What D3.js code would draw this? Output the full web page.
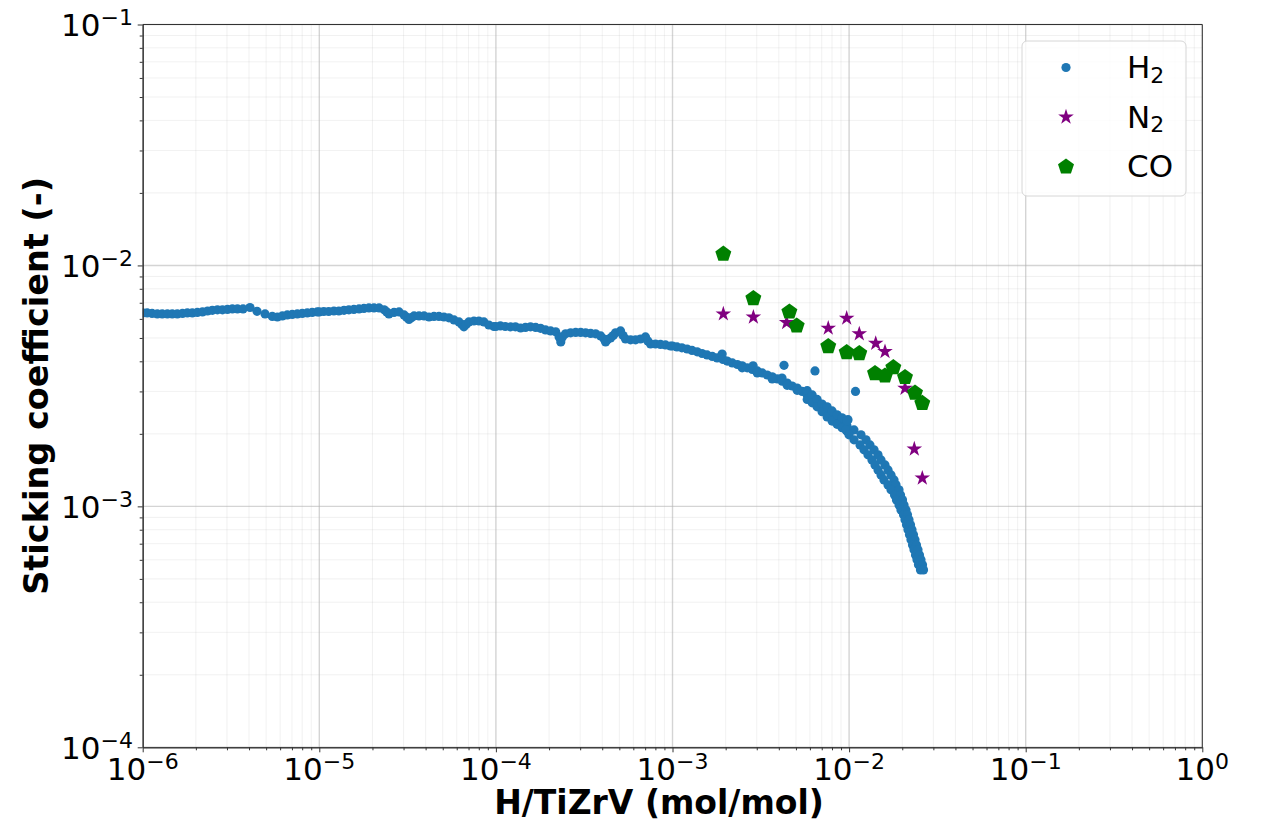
<!DOCTYPE html>
<html>
<head>
<meta charset="utf-8">
<script src="https://cdn.jsdelivr.net/npm/d3@7"></script>
<style>
  body { margin: 0; background: #fff; }
  svg { font-family: "DejaVu Sans", sans-serif; }
</style>
</head>
<body>
<svg id="chart" width="1261" height="822"></svg>
<script>
// H2 sticking coefficient vs H/TiZrV
var h2Points = [
  [1.00e-6,0.00635],[1.06e-6,0.00635],[1.13e-6,0.00632],[1.21e-6,0.00629],[1.29e-6,0.00629],[1.38e-6,0.00629],
  [1.47e-6,0.00629],[1.57e-6,0.00629],[1.68e-6,0.00632],[1.79e-6,0.00635],[1.91e-6,0.00635],[2.04e-6,0.00638],
  [2.18e-6,0.00641],[2.33e-6,0.00647],[2.48e-6,0.00651],[2.65e-6,0.00654],[2.83e-6,0.00654],[3.02e-6,0.00657],
  [3.22e-6,0.00660],[3.44e-6,0.00660],[3.70e-6,0.00660],[4.05e-6,0.00669],[4.44e-6,0.00645],[4.93e-6,0.00629],
  [5.42e-6,0.00614],[5.79e-6,0.00611],[6.18e-6,0.00617],[6.59e-6,0.00623],[7.03e-6,0.00626],[7.51e-6,0.00629],
  [8.01e-6,0.00632],[8.55e-6,0.00635],[9.12e-6,0.00638],[9.74e-6,0.00641],
  [1.00e-5,0.00641],[1.06e-5,0.00644],[1.13e-5,0.00644],[1.21e-5,0.00647],[1.29e-5,0.00647],[1.38e-5,0.00651],
  [1.47e-5,0.00654],[1.57e-5,0.00657],[1.68e-5,0.00660],[1.79e-5,0.00663],[1.91e-5,0.00666],[2.04e-5,0.00666],
  [2.18e-5,0.00666],[2.33e-5,0.00654],[2.41e-5,0.00641],[2.48e-5,0.00629],[2.65e-5,0.00638],[2.83e-5,0.00641],
  [3.02e-5,0.00623],[3.12e-5,0.00610],[3.22e-5,0.00597],[3.32e-5,0.00607],[3.44e-5,0.00617],[3.67e-5,0.00617],
  [3.92e-5,0.00617],[4.18e-5,0.00611],[4.46e-5,0.00614],[4.76e-5,0.00614],[5.08e-5,0.00611],[5.42e-5,0.00606],
  [5.79e-5,0.00594],[6.18e-5,0.00583],[6.40e-5,0.00570],[6.59e-5,0.00556],[6.80e-5,0.00570],[7.03e-5,0.00583],
  [7.51e-5,0.00588],[8.01e-5,0.00588],[8.55e-5,0.00583],[9.12e-5,0.00566],[9.74e-5,0.00558],
  [1.00e-4,0.00558],[1.06e-4,0.00561],[1.13e-4,0.00558],[1.21e-4,0.00556],[1.29e-4,0.00556],[1.38e-4,0.00550],
  [1.47e-4,0.00553],[1.57e-4,0.00556],[1.68e-4,0.00553],[1.79e-4,0.00548],[1.91e-4,0.00540],[2.04e-4,0.00535],
  [2.18e-4,0.00530],[2.28e-4,0.00505],[2.33e-4,0.00481],[2.38e-4,0.00505],[2.48e-4,0.00520],[2.65e-4,0.00525],
  [2.83e-4,0.00527],[3.02e-4,0.00527],[3.22e-4,0.00525],[3.44e-4,0.00522],[3.67e-4,0.00520],[3.92e-4,0.00510],
  [4.10e-4,0.00495],[4.18e-4,0.00481],[4.28e-4,0.00492],[4.46e-4,0.00500],[4.62e-4,0.00512],[4.76e-4,0.00525],
  [5.08e-4,0.00535],[5.25e-4,0.00512],[5.42e-4,0.00495],[5.79e-4,0.00491],[6.18e-4,0.00491],[6.59e-4,0.00495],
  [7.03e-4,0.00505],[7.25e-4,0.00486],[7.51e-4,0.00472],[8.01e-4,0.00472],[8.55e-4,0.00470],[9.12e-4,0.00468],
  [9.74e-4,0.00463],
  [1.00e-3,0.00463],[1.06e-3,0.00459],[1.13e-3,0.00455],[1.21e-3,0.00450],[1.29e-3,0.00444],[1.38e-3,0.00438],
  [1.47e-3,0.00431],[1.57e-3,0.00425],[1.68e-3,0.00419],[1.79e-3,0.00413],[1.91e-3,0.00429],[1.93e-3,0.00407],
  [2.04e-3,0.00401],[2.18e-3,0.00394],[2.33e-3,0.00388],[2.48e-3,0.00383],[2.65e-3,0.00376],[2.83e-3,0.00370],
  [2.86e-3,0.00383],[3.02e-3,0.00365],[3.22e-3,0.00358],[3.44e-3,0.00351],[3.67e-3,0.00345],[3.92e-3,0.00338],
  [4.17e-3,0.00341],[4.18e-3,0.00331],[4.28e-3,0.00385],[4.46e-3,0.00325],[4.76e-3,0.00316],[5.08e-3,0.00310],
  [5.42e-3,0.00300],[5.79e-3,0.00290],[6.18e-3,0.00278],[6.41e-3,0.00365],[6.59e-3,0.00269],[7.03e-3,0.00256],
  [7.51e-3,0.00247],[8.01e-3,0.00237],[8.55e-3,0.00230],[9.12e-3,0.00222],[9.74e-3,0.00215],[9.86e-3,0.00229],
  [2.48e-3,0.00376],[3.02e-3,0.00358],[3.67e-3,0.00338],[4.46e-3,0.00318],[5.08e-3,0.00303],
  [5.79e-3,0.00302],[5.79e-3,0.00278],[6.18e-3,0.00290],[6.18e-3,0.00269],[6.59e-3,0.00278],[6.59e-3,0.00259],
  [7.03e-3,0.00266],[7.03e-3,0.00247],[7.51e-3,0.00259],[7.51e-3,0.00235],[8.01e-3,0.00249],[8.01e-3,0.00226],
  [8.55e-3,0.00240],[8.55e-3,0.00219],[9.12e-3,0.00233],[9.12e-3,0.00212],[9.74e-3,0.00226],[9.74e-3,0.00205],
  [1.087e-2,0.00300],
  [9.60e-3,0.002077],[1.066e-2,0.002077],[9.99e-3,0.001981],[1.168e-2,0.001981],[1.066e-2,0.001888],[1.247e-2,0.001888],
  [1.153e-2,0.001799],[1.313e-2,0.001799],[1.214e-2,0.001716],[1.384e-2,0.001716],[1.279e-2,0.001636],[1.458e-2,0.001636],
  [1.348e-2,0.001559],[1.516e-2,0.001559],[1.402e-2,0.001486],[1.597e-2,0.001486],[1.458e-2,0.001417],[1.661e-2,0.001417],
  [1.516e-2,0.001351],[1.727e-2,0.001351],[1.576e-2,0.001288],[1.796e-2,0.001288],[1.661e-2,0.001228],[1.843e-2,0.001228],
  [1.727e-2,0.001171],[1.917e-2,0.001171],[1.808e-2,0.001116],[1.955e-2,0.001116],[1.855e-2,0.001064],[2.006e-2,0.001064],
  [1.917e-2,0.001014],[2.046e-2,0.001014],[1.967e-2,0.000967],[2.100e-2,0.000967],[2.033e-2,0.000922],[2.141e-2,0.000922],
  [2.073e-2,0.000879],[2.184e-2,0.000879],[2.114e-2,0.000838],[2.227e-2,0.000838],[2.155e-2,0.000799],[2.271e-2,0.000799],
  [2.198e-2,0.000762],[2.315e-2,0.000762],[2.241e-2,0.000726],[2.361e-2,0.000726],[2.286e-2,0.000692],[2.408e-2,0.000692],
  [2.331e-2,0.000660],[2.455e-2,0.000660],[2.377e-2,0.000629],[2.504e-2,0.000629],[2.424e-2,0.000600],[2.553e-2,0.000600],
  [2.471e-2,0.000572],[2.604e-2,0.000572],[2.537e-2,0.000545],[2.638e-2,0.000545]
];

var n2Points = [
  [1.94e-3,0.00629],[2.87e-3,0.00610],[4.43e-3,0.00579],[7.62e-3,0.00549],[9.69e-3,0.00604],[1.142e-2,0.00520],
  [1.415e-2,0.00475],[1.597e-2,0.00439],[2.073e-2,0.00309],[2.340e-2,0.00173],[2.597e-2,0.00131]
];

var coPoints = [
  [1.94e-3,0.01124],[2.87e-3,0.00735],[4.59e-3,0.00647],[5.05e-3,0.00566],[7.62e-3,0.00465],[9.69e-3,0.00439],
  [1.142e-2,0.00435],[1.402e-2,0.00359],[1.597e-2,0.00351],[1.780e-2,0.00380],[2.073e-2,0.00346],[2.361e-2,0.00298],
  [2.597e-2,0.00270]
];

var xTickExps = [-6, -5, -4, -3, -2, -1, 0];
var yTickExps = [-4, -3, -2, -1];
var legendLabels = [["H", "2"], ["N", "2"], ["CO", ""]];
var seriesColors = ["#1f77b4", "#800080", "#008000"];

var svg = d3.select("#chart");
var pL = 142.7, pR = 1202.3, pT = 24.5, pB = 747.3;

var x = d3.scaleLog().domain([1e-6, 1]).range([pL, pR]);
var y = d3.scaleLog().domain([1e-4, 1e-1]).range([pB, pT]);

function majors(exps) { return exps.map(function(e) { return Math.pow(10, e); }); }
function minors(exps) {
  var out = [];
  exps.slice(0, -1).forEach(function(e) {
    for (var k = 2; k <= 9; k++) out.push(k * Math.pow(10, e));
  });
  return out;
}
var xMaj = majors(xTickExps), xMin = minors(xTickExps);
var yMaj = majors(yTickExps), yMin = minors(yTickExps);

// grid
var grid = svg.append("g");
function vLines(vals, op, w) {
  grid.append("g").selectAll("line").data(vals).join("line")
    .attr("x1", function(d) { return x(d); }).attr("x2", function(d) { return x(d); })
    .attr("y1", pT).attr("y2", pB).attr("stroke", "#b0b0b0").attr("stroke-opacity", op).attr("stroke-width", w);
}
function hLines(vals, op, w) {
  grid.append("g").selectAll("line").data(vals).join("line")
    .attr("y1", function(d) { return y(d); }).attr("y2", function(d) { return y(d); })
    .attr("x1", pL).attr("x2", pR).attr("stroke", "#b0b0b0").attr("stroke-opacity", op).attr("stroke-width", w);
}
vLines(xMin, 0.18, 1); hLines(yMin, 0.18, 1);
vLines(xMaj, 0.55, 1.4); hLines(yMaj, 0.55, 1.4);

// data
svg.append("clipPath").attr("id", "plotclip").append("rect")
  .attr("x", pL).attr("y", pT).attr("width", pR - pL).attr("height", pB - pT);
var plot = svg.append("g").attr("clip-path", "url(#plotclip)");

function starPath(R) {
  var r = R * 0.381966, p = d3.path();
  for (var i = 0; i < 10; i++) {
    var a = -Math.PI / 2 + i * Math.PI / 5, rr = i % 2 ? r : R;
    if (i === 0) p.moveTo(rr * Math.cos(a), rr * Math.sin(a)); else p.lineTo(rr * Math.cos(a), rr * Math.sin(a));
  }
  p.closePath();
  return p.toString();
}
function pentPath(R) {
  var p = d3.path();
  for (var i = 0; i < 5; i++) {
    var a = -Math.PI / 2 + i * 2 * Math.PI / 5;
    if (i === 0) p.moveTo(R * Math.cos(a), R * Math.sin(a)); else p.lineTo(R * Math.cos(a), R * Math.sin(a));
  }
  p.closePath();
  return p.toString();
}

plot.append("g").selectAll("circle").data(h2Points).join("circle")
  .attr("cx", function(d) { return x(d[0]); }).attr("cy", function(d) { return y(d[1]); })
  .attr("r", 4.6).attr("fill", seriesColors[0]);
plot.append("g").selectAll("path").data(n2Points).join("path")
  .attr("d", starPath(8.2))
  .attr("transform", function(d) { return "translate(" + x(d[0]) + "," + y(d[1]) + ")"; })
  .attr("fill", seriesColors[1]);
plot.append("g").selectAll("path").data(coPoints).join("path")
  .attr("d", pentPath(8.4))
  .attr("transform", function(d) { return "translate(" + x(d[0]) + "," + (y(d[1]) + 0.8) + ")"; })
  .attr("fill", seriesColors[2]);

// axes
function drawAxis(axis, tr) {
  var g = svg.append("g").attr("transform", tr).call(axis);
  g.selectAll("path,line").attr("stroke", "#333");
  g.selectAll("text").remove();
  return g;
}
drawAxis(d3.axisBottom(x).tickValues(xMaj).tickSize(5).tickSizeOuter(0).tickFormat(""), "translate(0," + pB + ")");
drawAxis(d3.axisBottom(x).tickValues(xMin).tickSize(3).tickSizeOuter(0).tickFormat(""), "translate(0," + pB + ")");
drawAxis(d3.axisLeft(y).tickValues(yMaj).tickSize(5).tickSizeOuter(0).tickFormat(""), "translate(" + pL + ",0)");
drawAxis(d3.axisLeft(y).tickValues(yMin).tickSize(3).tickSizeOuter(0).tickFormat(""), "translate(" + pL + ",0)");
svg.append("line").attr("x1", pL).attr("x2", pR).attr("y1", pT).attr("y2", pT).attr("stroke", "#333");
svg.append("line").attr("x1", pR).attr("x2", pR).attr("y1", pT).attr("y2", pB).attr("stroke", "#333");

function expLabel(sel) {
  sel.append("tspan").text("10");
  sel.append("tspan").attr("dy", -11).style("font-size", "22px")
    .text(function(d) { return d < 0 ? "\u2212" + (-d) : String(d); });
}
svg.append("g").selectAll("text").data(xTickExps).join("text")
  .attr("x", function(d) { return x(Math.pow(10, d)); }).attr("y", 779.5)
  .attr("text-anchor", "middle").style("font-size", "31px").attr("fill", "#000")
  .call(expLabel);
svg.append("g").selectAll("text").data(yTickExps).join("text")
  .attr("x", 133).attr("y", function(d) { return y(Math.pow(10, d)) + 11.5; })
  .attr("text-anchor", "end").style("font-size", "31px").attr("fill", "#000")
  .call(expLabel);

// axis titles
svg.append("text").attr("x", 659).attr("y", 814).attr("text-anchor", "middle")
  .style("font-size", "33px").style("font-weight", "bold").text("H/TiZrV (mol/mol)");
svg.append("text").attr("transform", "translate(48," + ((pT + pB) / 2) + ") rotate(-90)")
  .attr("text-anchor", "middle").style("font-size", "33.5px").style("font-weight", "bold")
  .text("Sticking coefficient (-)");

// legend
var lg = svg.append("g");
lg.append("rect").attr("x", 1022).attr("y", 41).attr("width", 164).attr("height", 155).attr("rx", 5)
  .attr("fill", "#fff").attr("fill-opacity", 0.8).attr("stroke", "#d6d6d6");
var rowY = [67.5, 117, 166];
lg.append("circle").attr("cx", 1066).attr("cy", rowY[0]).attr("r", 4.6).attr("fill", seriesColors[0]);
lg.append("path").attr("d", starPath(8.2)).attr("transform", "translate(1066," + rowY[1] + ")").attr("fill", seriesColors[1]);
lg.append("path").attr("d", pentPath(8.4)).attr("transform", "translate(1066," + (rowY[2] + 0.8) + ")").attr("fill", seriesColors[2]);
legendLabels.forEach(function(lab, i) {
  var t = lg.append("text").attr("x", 1127).attr("y", rowY[i] + 10.8).style("font-size", "31px");
  t.append("tspan").text(lab[0]);
  if (lab[1]) t.append("tspan").attr("dy", 4.5).style("font-size", "22px").text(lab[1]);
});
</script>
</body>
</html>
